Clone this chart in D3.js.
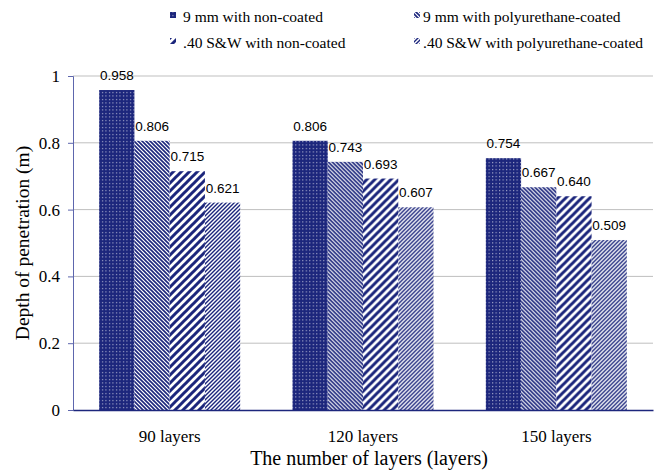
<!DOCTYPE html>
<html><head><meta charset="utf-8">
<script src="https://cdn.jsdelivr.net/npm/d3@7"></script>
<style>body{margin:0;background:#fff}</style>
</head><body><svg id="c" width="664" height="472"></svg>
<script>
const categories = ["90 layers", "120 layers", "150 layers"];
const seriesNames = ["9 mm with non-coated", "9 mm with polyurethane-coated", ".40 S&W with non-coated", ".40 S&W with polyurethane-coated"];
const s9NonCoated = [0.958, 0.806, 0.754];
const s9PuCoated = [0.806, 0.743, 0.667];
const s40NonCoated = [0.715, 0.693, 0.640];
const s40PuCoated = [0.621, 0.607, 0.509];
const valueLabels = [["0.958","0.806","0.754"],["0.806","0.743","0.667"],["0.715","0.693","0.640"],["0.621","0.607","0.509"]];
const yTicks = [0, 0.2, 0.4, 0.6, 0.8, 1];
const yTickLabels = ["0", "0.2", "0.4", "0.6", "0.8", "1"];
const xTitle = "The number of layers (layers)";
const yTitle = "Depth of penetration (m)";

const seriesValues = [s9NonCoated, s9PuCoated, s40NonCoated, s40PuCoated];
const NAVY = "#1c267c";
const svg = d3.select("#c");
const M = {l: 73, r: 653, t: 76, b: 410};

const defs = svg.append("defs");
const p0 = defs.append("pattern").attr("id","p0").attr("patternUnits","userSpaceOnUse").attr("width",3.5).attr("height",3.5);
p0.append("rect").attr("width",3.5).attr("height",3.5).attr("fill",NAVY);
p0.append("rect").attr("x",1).attr("y",1).attr("width",1).attr("height",1).attr("fill","#fff").attr("opacity",0.85);
const p1 = defs.append("pattern").attr("id","p1").attr("patternUnits","userSpaceOnUse").attr("width",4).attr("height",4);
p1.append("rect").attr("width",4).attr("height",4).attr("fill","#fff");
p1.append("path").attr("d","M0,0L4,4M-1,3L1,5M3,-1L5,1").attr("stroke",NAVY).attr("stroke-width",1.6);
const p2 = defs.append("pattern").attr("id","p2").attr("patternUnits","userSpaceOnUse").attr("width",8).attr("height",8);
p2.append("rect").attr("width",8).attr("height",8).attr("fill","#fff");
p2.append("path").attr("d","M0,8L8,0M-2,2L2,-2M6,10L10,6").attr("stroke",NAVY).attr("stroke-width",3);
const p3 = defs.append("pattern").attr("id","p3").attr("patternUnits","userSpaceOnUse").attr("width",4).attr("height",4);
p3.append("rect").attr("width",4).attr("height",4).attr("fill","#fff");
p3.append("path").attr("d","M0,4L4,0M-1,1L1,-1M3,5L5,3").attr("stroke",NAVY).attr("stroke-width",1.4);

const x0 = d3.scaleBand().domain(categories).range([M.l, M.r]).padding(0);
const x1 = d3.scaleBand().domain(d3.range(seriesNames.length)).range([0, x0.bandwidth()]).paddingInner(0).paddingOuter(0.742);
const y = d3.scaleLinear().domain([0, 1]).range([M.b, M.t]);

svg.append("g").selectAll("line").data(yTicks.filter(d => d > 0)).join("line")
  .attr("x1", M.l).attr("x2", M.r).attr("y1", d => y(d)).attr("y2", d => y(d))
  .attr("stroke", "#bfbfbf").attr("stroke-width", 1);

const groups = svg.append("g").selectAll("g").data(categories).join("g")
  .attr("transform", c => `translate(${x0(c)},0)`);
groups.selectAll("rect").data((c, ci) => seriesValues.map((vals, si) => ({si, v: vals[ci], ci})))
  .join("rect")
  .attr("x", d => x1(d.si)).attr("width", x1.bandwidth())
  .attr("y", d => y(d.v)).attr("height", d => y(0) - y(d.v))
  .attr("fill", d => `url(#p${d.si})`);
groups.selectAll("text").data((c, ci) => seriesValues.map((vals, si) => ({si, v: vals[ci], ci})))
  .join("text")
  .attr("x", d => x1(d.si) + x1.bandwidth() / 2).attr("y", d => y(d.v) - 10)
  .attr("text-anchor", "middle").attr("font-family", "Liberation Sans, Arial, sans-serif")
  .attr("font-size", 13.5).attr("fill", "#000")
  .text(d => valueLabels[d.si][d.ci]);

const yAxis = d3.axisLeft(y).tickValues(yTicks).tickFormat((d, i) => yTickLabels[i]).tickSize(5).tickPadding(8);
const ga = svg.append("g").attr("transform", `translate(${M.l},0)`).call(yAxis);
ga.select(".domain").attr("stroke", "#5d66ad").attr("stroke-width", 1);
ga.selectAll(".tick line").attr("stroke", "#5d66ad");
ga.selectAll(".tick text").attr("font-family", "Liberation Serif, Times New Roman, serif").attr("font-size", 17).attr("fill", "#000");

const xAxis = d3.axisBottom(x0).tickSize(0).tickPadding(20);
const gx = svg.append("g").attr("transform", `translate(0,${M.b})`).call(xAxis);
gx.select(".domain").attr("stroke", NAVY).attr("stroke-width", 1.5);
gx.selectAll(".tick text").attr("font-family", "Liberation Serif, Times New Roman, serif").attr("font-size", 17).attr("fill", "#000");

svg.append("text").attr("x", (M.l + M.r) / 2 + 6).attr("y", 465).attr("text-anchor", "middle")
  .attr("font-family", "Liberation Serif, Times New Roman, serif").attr("font-size", 20).text(xTitle);
svg.append("text").attr("transform", `translate(29,${(M.t + M.b) / 2}) rotate(-90)`).attr("text-anchor", "middle")
  .attr("font-family", "Liberation Serif, Times New Roman, serif").attr("font-size", 19.5).text(yTitle);

const legX = [170, 414], legTX = [183, 423], legY = [22, 48];
const leg = svg.append("g").selectAll("g").data(seriesNames).join("g");
leg.append("rect").attr("x", (d, i) => legX[i % 2]).attr("y", (d, i) => legY[Math.floor(i / 2)] - 10)
  .attr("width", 6).attr("height", 6).attr("fill", (d, i) => `url(#p${i})`);
leg.append("text").attr("x", (d, i) => legTX[i % 2]).attr("y", (d, i) => legY[Math.floor(i / 2)])
  .attr("font-family", "Liberation Serif, Times New Roman, serif").attr("font-size", 15.5).attr("fill", "#000")
  .text(d => d);
</script></body></html>
